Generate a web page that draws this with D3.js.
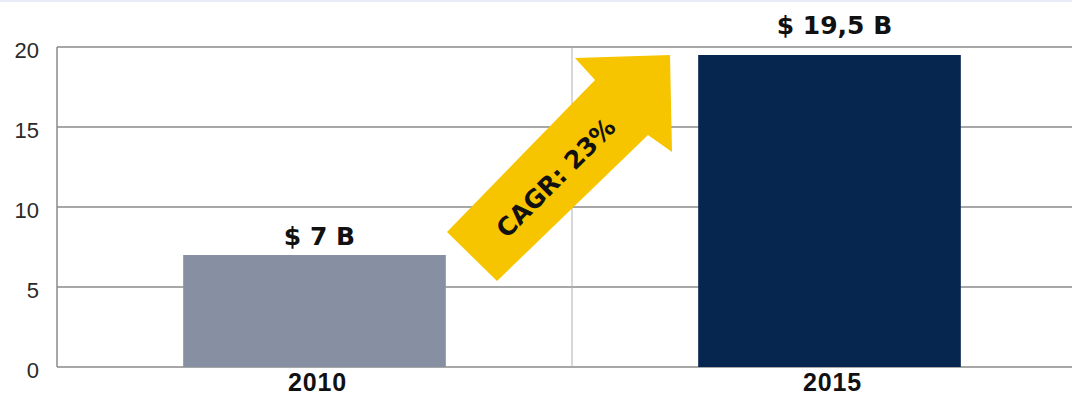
<!DOCTYPE html>
<html>
<head>
<meta charset="utf-8">
<script src="https://cdn.jsdelivr.net/npm/d3@7"></script>
<style>
  body { margin: 0; background: #fff; }
  svg { display: block; font-family: "Liberation Sans", Arial, sans-serif; }
</style>
</head>
<body>
<div id="chart"></div>
<script>
// data
var years = ["2010", "2015"];
var revenue = [7, 19.5];
var valueLabels = ["$ 7 B", "$ 19,5 B"];
var barColors = ["#878fa2", "#06264f"];
var yTicks = [0, 5, 10, 15, 20];
var cagrText = "CAGR: 23%";

var w = 1072, h = 395;
var margin = {left: 57, top: 47, bottom: 28};
var plotW = 1030; // plot runs past the right edge of the picture

var svg = d3.select("#chart").append("svg")
    .attr("width", w)
    .attr("height", h);

// faint strip along the top
svg.append("rect")
    .attr("x", 0).attr("y", 0)
    .attr("width", w).attr("height", 2)
    .attr("fill", "#e9ecf8");

var x = d3.scaleBand()
    .domain(years)
    .range([margin.left, margin.left + plotW])
    .paddingInner(0.49)
    .paddingOuter(0.245);

var y = d3.scaleLinear()
    .domain([0, 20])
    .range([h - margin.bottom, margin.top]);

// gridlines
svg.append("g").selectAll("line")
    .data(yTicks)
    .enter().append("line")
    .attr("x1", margin.left).attr("x2", w)
    .attr("y1", function(d) { return y(d); })
    .attr("y2", function(d) { return y(d); })
    .attr("stroke", "#8a8a8a")
    .attr("stroke-width", 1.5);

// left axis line and category separator
var sep = margin.left + plotW / 2;
svg.append("line")
    .attr("x1", margin.left).attr("x2", margin.left)
    .attr("y1", y(20)).attr("y2", y(0))
    .attr("stroke", "#8a8a8a").attr("stroke-width", 1.5);
svg.append("line")
    .attr("x1", sep).attr("x2", sep)
    .attr("y1", y(20)).attr("y2", y(0))
    .attr("stroke", "#b0b0b0").attr("stroke-width", 1);

// y tick labels
svg.append("g").selectAll("text")
    .data(yTicks)
    .enter().append("text")
    .attr("x", 39)
    .attr("y", function(d) { return y(d) + 11; })
    .attr("text-anchor", "end")
    .attr("font-size", 22)
    .attr("fill", "#2a2a2a")
    .text(function(d) { return d; });

// bars
svg.append("g").selectAll("rect")
    .data(revenue)
    .enter().append("rect")
    .attr("x", function(d, i) { return x(years[i]); })
    .attr("y", function(d) { return y(d); })
    .attr("width", x.bandwidth())
    .attr("height", function(d) { return y(0) - y(d); })
    .attr("fill", function(d, i) { return barColors[i]; });

// value labels
var labelGap = [10, 21];
svg.append("g").selectAll("text")
    .data(revenue)
    .enter().append("text")
    .attr("x", function(d, i) { return x(years[i]) + x.bandwidth() / 2 + 5; })
    .attr("y", function(d, i) { return y(d) - labelGap[i]; })
    .attr("text-anchor", "middle")
    .attr("font-family", "'DejaVu Sans', sans-serif")
    .attr("font-size", 25)
    .attr("font-weight", "bold")
    .attr("fill", "#111")
    .text(function(d, i) { return valueLabels[i]; });

// category labels
svg.append("g").selectAll("text")
    .data(years)
    .enter().append("text")
    .attr("x", function(d) { return x(d) + x.bandwidth() / 2 + 3; })
    .attr("y", 391)
    .attr("text-anchor", "middle")
    .attr("font-size", 25)
    .attr("font-weight", "bold")
    .attr("letter-spacing", 0.8)
    .attr("fill", "#111")
    .text(function(d) { return d; });

// CAGR arrow
var arrow = [[447, 232], [595, 80], [575, 58], [670, 55], [672, 152], [648, 135], [497, 281]];
svg.append("polygon")
    .attr("points", arrow.map(function(p) { return p.join(","); }).join(" "))
    .attr("fill", "#f7c500");

svg.append("text")
    .attr("transform", "translate(562,184) rotate(-45)")
    .attr("text-anchor", "middle")
    .attr("font-family", "'DejaVu Sans', sans-serif")
    .attr("font-size", 25)
    .attr("font-weight", "bold")
    .attr("fill", "#111")
    .text(cagrText);
</script>
</body>
</html>
